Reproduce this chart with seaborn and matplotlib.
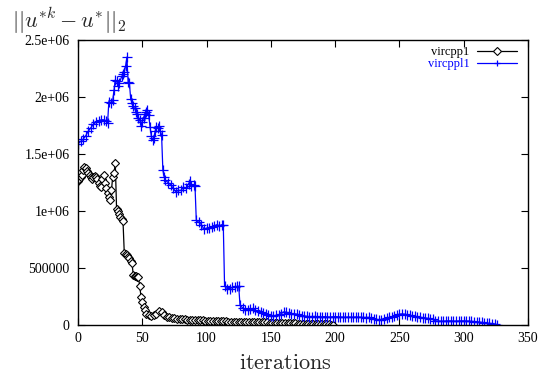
import matplotlib
matplotlib.use("Agg")
import matplotlib.pyplot as plt
import seaborn as sns
import numpy as np
import pandas as pd

# ---- data (values in units of 1e6) ----
blue_iter = [0, 2, 4, 6, 8, 10, 12, 14, 16, 18, 20, 22, 23, 24, 26, 27, 28, 29, 30, 31,
             32, 34, 35, 36, 37, 38, 39, 40, 41, 42, 43, 44, 45, 46, 47, 48, 49, 50, 51, 52,
             53, 54, 55, 56, 57, 58, 59, 60, 61, 62, 63, 64, 65, 66, 67, 68, 70, 72, 74, 76,
             78, 80, 82, 84, 86, 87, 88, 90, 91, 92, 94, 96, 98, 100, 102, 104, 106, 108, 110, 112,
             113, 114, 116, 118, 120, 122, 124, 125,
             126, 128, 130, 132, 134, 136, 138, 140, 142, 144, 146, 148, 150, 152, 154, 156, 158, 160,
             162, 164, 166, 168, 170, 172, 174, 176, 178, 180, 182, 184, 186, 188, 190, 192, 194, 196,
             198, 200, 202, 204, 206, 208, 210, 212, 214, 216, 218, 220, 222, 224, 226, 228, 230, 232,
             234, 236, 238, 240, 242, 244, 246, 248, 250, 252, 254, 256, 258, 260, 262, 264, 266, 268,
             270, 272, 274, 276, 278, 280, 282, 284, 286, 288, 290, 292, 294, 296, 298, 300, 302, 304,
             306, 308, 310, 312, 314, 316, 318, 320, 322, 324, 326]
blue_val = [1.59, 1.61, 1.63, 1.66, 1.70, 1.73, 1.76, 1.78, 1.79, 1.80, 1.80, 1.79, 1.77, 1.96, 1.95, 1.97, 2.06, 2.15, 2.14, 2.10,
            2.12, 2.18, 2.20, 2.22, 2.27, 2.35, 2.13, 2.12, 1.98, 1.95, 1.92, 1.90, 1.87, 1.85, 1.82, 1.80, 1.75, 1.78, 1.82, 1.85,
            1.87, 1.89, 1.84, 1.74, 1.66, 1.62, 1.64, 1.70, 1.74, 1.73, 1.75, 1.70, 1.67, 1.36, 1.30, 1.27, 1.25, 1.23, 1.20, 1.17,
            1.18, 1.18, 1.21, 1.20, 1.24, 1.26, 1.22, 1.23, 1.22, 0.92, 0.90, 0.88, 0.84, 0.85, 0.85, 0.86, 0.87, 0.88, 0.87, 0.88,
            0.88, 0.34, 0.32, 0.32, 0.33, 0.33, 0.34, 0.34,
            0.175, 0.15, 0.13, 0.135, 0.14, 0.145, 0.13, 0.12, 0.11, 0.105, 0.10, 0.085, 0.08, 0.08, 0.085, 0.09, 0.10, 0.115,
            0.112, 0.105, 0.10, 0.10, 0.095, 0.09, 0.082, 0.08, 0.075, 0.073, 0.074, 0.075, 0.072, 0.07, 0.072, 0.073, 0.071, 0.07,
            0.072, 0.073, 0.072, 0.07, 0.069, 0.068, 0.07, 0.069, 0.068, 0.07, 0.069, 0.068, 0.066, 0.065, 0.067, 0.062, 0.056, 0.05,
            0.046, 0.048, 0.055, 0.062, 0.066, 0.07, 0.08, 0.088, 0.095, 0.097, 0.095, 0.09, 0.085, 0.08, 0.078, 0.072, 0.068, 0.065,
            0.062, 0.058, 0.055, 0.05, 0.036, 0.035, 0.034, 0.033, 0.035, 0.036, 0.036, 0.034, 0.034, 0.035, 0.036, 0.036, 0.035, 0.034,
            0.032, 0.03, 0.029, 0.026, 0.022, 0.02, 0.017, 0.015, 0.012, 0.008, 0.004]

black_iter = list(range(0, 54)) + [55, 57, 59, 61, 63, 65, 67, 69, 71, 73, 75, 77, 79, 81, 83, 85, 87, 89, 91, 93,
                                   95, 97, 99, 101, 103, 105, 107, 109, 111, 113, 115, 117, 119, 121, 123, 125, 127, 129,
                                   131, 133, 135, 137, 139, 141, 143, 145, 147, 149, 151, 153, 155, 157, 159, 161, 163, 165,
                                   167, 169, 171, 173, 175, 177, 179, 181, 183, 185, 187, 189, 191, 193, 195, 197, 198]
black_val = [1.26, 1.28, 1.30, 1.32, 1.36, 1.39, 1.38, 1.35, 1.33, 1.32, 1.30, 1.28, 1.30, 1.31, 1.30, 1.28, 1.25, 1.22, 1.21, 1.28,
             1.32, 1.25, 1.20, 1.16, 1.12, 1.10, 1.18, 1.30, 1.33, 1.42, 1.02, 1.00, 0.97, 0.95, 0.93, 0.91, 0.63, 0.62, 0.61, 0.60,
             0.585, 0.56, 0.54, 0.44, 0.43, 0.43, 0.42, 0.42, 0.34, 0.25, 0.20, 0.16, 0.13, 0.10,
             0.09, 0.08, 0.085, 0.10, 0.125, 0.11, 0.085, 0.07, 0.066, 0.064, 0.06, 0.057, 0.055, 0.052, 0.05, 0.048, 0.046, 0.045, 0.044, 0.042,
             0.041, 0.04, 0.038, 0.037, 0.036, 0.035, 0.035, 0.034, 0.033, 0.032, 0.031, 0.03, 0.03, 0.03, 0.029, 0.028, 0.028, 0.028,
             0.027, 0.027, 0.026, 0.025, 0.025, 0.024, 0.023, 0.023, 0.022, 0.021, 0.02, 0.02, 0.019, 0.018, 0.017, 0.017, 0.016, 0.015,
             0.014, 0.014, 0.013, 0.012, 0.012, 0.011, 0.01, 0.01, 0.009, 0.008, 0.008, 0.007, 0.006, 0.006, 0.005, 0.004, 0.004]

x_ticks = [0, 50, 100, 150, 200, 250, 300, 350]
y_ticks = [0, 500000, 1000000, 1500000, 2000000, 2500000]
y_tick_labels = ["0", "500000", "1e+06", "1.5e+06", "2e+06", "2.5e+06"]
series_names = ["vircpp1", "vircppl1"]

df_black = pd.DataFrame({"iter": black_iter, "val": np.array(black_val) * 1e6})
df_blue = pd.DataFrame({"iter": blue_iter, "val": np.array(blue_val) * 1e6})

sns.set_style("ticks")
plt.rcParams["font.family"] = ["Liberation Serif", "DejaVu Serif"]
plt.rcParams["mathtext.fontset"] = "cm"

fig = plt.figure(figsize=(5.39, 3.73), dpi=100)
ax = fig.add_axes([78 / 539, 1 - 325 / 373, 450 / 539, 285 / 373])

sns.lineplot(data=df_black, x="iter", y="val", ax=ax, color="black", lw=0.9,
             marker="D", markersize=4.3, markerfacecolor="white", markeredgecolor="black",
             markeredgewidth=0.8, label=series_names[0], estimator=None)
sns.lineplot(data=df_blue, x="iter", y="val", ax=ax, color="#0000ff", lw=0.9,
             marker="+", markersize=6.5, markeredgewidth=0.9, markeredgecolor="#0000ff",
             label=series_names[1], estimator=None)

ax.set_xlim(0, 350)
ax.set_ylim(0, 2.5e6)
ax.set_xticks(x_ticks)
ax.set_xticklabels([str(t) for t in x_ticks])
ax.set_yticks(y_ticks)
ax.set_yticklabels(y_tick_labels)
ax.tick_params(direction="in", length=5, width=0.8, top=True, right=True,
               labelsize=10, colors="black")
ax.tick_params(axis="x", pad=5)
ax.tick_params(axis="y", pad=6)
for s in ax.spines.values():
    s.set_visible(True)
    s.set_linewidth(1.0)
    s.set_color("black")
ax.set_xlabel("")
ax.set_ylabel("")

fig.text(285 / 539, 1 - 369 / 373, r"$\mathrm{iterations}$", ha="center", va="baseline", fontsize=16)
fig.text(12 / 539, 1 - 28 / 373, r"$||u^{*k} - u^{*}||_2$", ha="left", va="baseline", fontsize=16)

leg = ax.legend(loc="upper right", bbox_to_anchor=(1 - 11 / 450, 1 - 6 / 285), frameon=False,
                markerfirst=False, fontsize=9, labelspacing=0.0, handlelength=3.2,
                handletextpad=0.6, borderaxespad=0.0, borderpad=0.0,
                labelcolor=["black", "#0000ff"])
for h in leg.legend_handles:
    h.set_markersize(4)

fig.savefig("out.png", dpi=100)
